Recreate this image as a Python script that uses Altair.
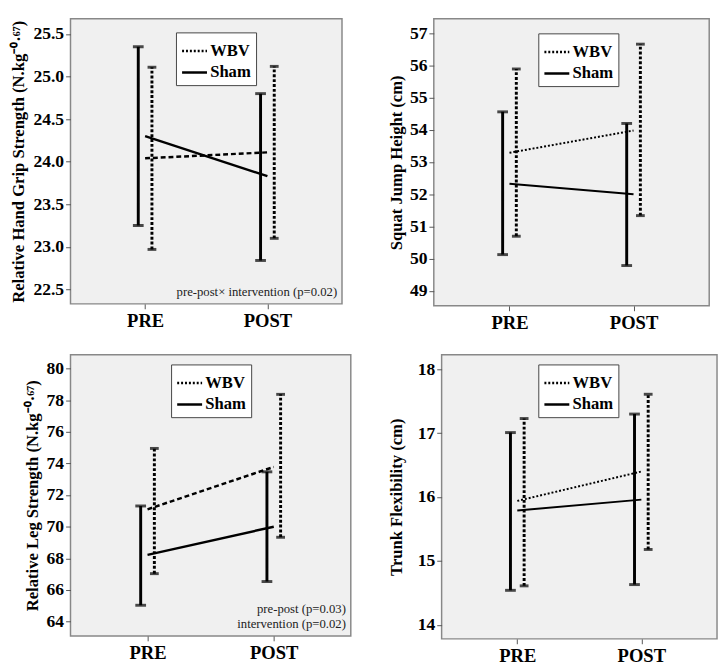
import altair as alt
import pandas as pd

phases = ["PRE", "POST"]
groups = ["WBV", "Sham"]

# Panel 1: Relative hand grip strength
grip_wbv_mean = [24.04, 24.11]
grip_wbv_lo = [22.97, 23.10]
grip_wbv_hi = [25.11, 25.12]
grip_sham_mean = [24.30, 23.83]
grip_sham_lo = [23.25, 22.84]
grip_sham_hi = [25.35, 24.80]
grip_ticks = [22.5, 23.0, 23.5, 24.0, 24.5, 25.0, 25.5]

# Panel 2: Squat jump height
jump_wbv_mean = [53.29, 53.98]
jump_wbv_lo = [50.70, 51.34]
jump_wbv_hi = [55.89, 56.66]
jump_sham_mean = [52.33, 52.00]
jump_sham_lo = [50.13, 49.79]
jump_sham_hi = [54.56, 54.20]
jump_ticks = [49, 50, 51, 52, 53, 54, 55, 56, 57]

# Panel 3: Relative leg strength
leg_wbv_mean = [71.10, 73.78]
leg_wbv_lo = [67.03, 69.33]
leg_wbv_hi = [74.95, 78.37]
leg_sham_mean = [68.22, 70.00]
leg_sham_lo = [65.03, 66.53]
leg_sham_hi = [71.31, 73.47]
leg_ticks = [64, 66, 68, 70, 72, 74, 76, 78, 80]

# Panel 4: Trunk flexibility
flex_wbv_mean = [15.94, 16.40]
flex_wbv_lo = [14.61, 15.18]
flex_wbv_hi = [17.23, 17.61]
flex_sham_mean = [15.79, 15.96]
flex_sham_lo = [14.54, 14.63]
flex_sham_hi = [17.01, 17.30]
flex_ticks = [14, 15, 16, 17, 18]

SERIF = "Liberation Serif"


def make_panel(title, wm, wl, wh, sm, sl, sh, domain, ticks, fmt,
               width, height, legend_xy, notes=(), wbv_line_dash=(2, 2),
               line_width=2.5, title_pad=6):
    rows = []
    for i, p in enumerate(phases):
        rows.append({"phase": p, "group": "WBV", "mean": wm[i], "lo": wl[i], "hi": wh[i]})
        rows.append({"phase": p, "group": "Sham", "mean": sm[i], "lo": sl[i], "hi": sh[i]})
    df = pd.DataFrame(rows)

    x = alt.X("phase:N", sort=phases, title=None,
              scale=alt.Scale(type="point", padding=0.61),
              axis=alt.Axis(labelAngle=0, labelFont=SERIF, labelFontSize=19,
                            labelFontWeight="bold", labelColor="black",
                            tickSize=5, tickColor="#555", domain=False,
                            labelPadding=3, grid=False))
    yscale = alt.Scale(domain=domain, nice=False, zero=False)
    yaxis = alt.Axis(values=ticks, format=fmt, grid=False, domain=False,
                     labelOverlap=False,
                     labelFont=SERIF, labelFontSize=18, labelFontWeight="bold",
                     labelColor="black", tickSize=5, tickColor="#555",
                     labelPadding=2, titleFont=SERIF, titleFontSize=17,
                     titleFontWeight="bold", titleColor="black",
                     titlePadding=title_pad)

    def yenc(field):
        return alt.Y(field + ":Q", scale=yscale, title=title, axis=yaxis)

    base = alt.Chart(df)

    # invisible layer that only carries the legend (dotted WBV / solid Sham)
    legend_layer = base.mark_line(color="black", strokeWidth=2.5, opacity=0).encode(
        x=x,
        y=yenc("mean"),
        detail="group:N",
        strokeDash=alt.StrokeDash(
            "group:N",
            scale=alt.Scale(domain=groups, range=[[2, 2], [1, 0]]),
            legend=alt.Legend(title=None, orient="none",
                              legendX=legend_xy[0], legendY=legend_xy[1],
                              strokeColor="#444", fillColor="white", padding=5,
                              labelFont=SERIF, labelFontSize=17, labelFontWeight="bold",
                              labelColor="black", symbolType="stroke",
                              symbolStrokeColor="black", symbolStrokeWidth=2.5,
                              symbolOpacity=1, symbolSize=650, rowPadding=0,
                              labelOffset=2)),
    )

    layers = [legend_layer]
    wbv = base.transform_filter(alt.datum.group == "WBV")
    sham = base.transform_filter(alt.datum.group == "Sham")
    layers.append(wbv.mark_line(color="black", strokeWidth=line_width,
                                strokeDash=list(wbv_line_dash)).encode(x=x, y=yenc("mean")))
    layers.append(sham.mark_line(color="black", strokeWidth=line_width).encode(
        x=x, y=yenc("mean")))

    for sub, off, dash, tick_size in [(sham, -7, [1, 0], 11), (wbv, 7, [3, 2], 9)]:
        layers.append(sub.mark_rule(color="black", strokeWidth=3, xOffset=off,
                                    strokeDash=dash).encode(
            x=x, y=yenc("lo"), y2="hi:Q"))
        layers.append(sub.mark_tick(color="black", orient="horizontal", size=tick_size,
                                    thickness=3, xOffset=off).encode(x=x, y=yenc("lo")))
        layers.append(sub.mark_tick(color="black", orient="horizontal", size=tick_size,
                                    thickness=3, xOffset=off).encode(x=x, y=yenc("hi")))

    n = len(notes)
    for k, note in enumerate(notes):
        layers.append(alt.Chart(pd.DataFrame({"t": [note]})).mark_text(
            align="right", baseline="bottom", font=SERIF, fontSize=13,
            color="#222").encode(
            x=alt.value(width - 5), y=alt.value(height - 5 - 15 * (n - 1 - k)),
            text="t:N"))

    return alt.layer(*layers).properties(width=width, height=height)


SUP = "\u207b\u2070\u00b7\u2076\u2077"

p1 = make_panel("Relative Hand Grip Strength (N.kg" + SUP + ")",
                grip_wbv_mean, grip_wbv_lo, grip_wbv_hi,
                grip_sham_mean, grip_sham_lo, grip_sham_hi,
                [22.33, 25.68], grip_ticks, ".1f", 278, 292, (108, 14),
                notes=["pre-post\u00d7 intervention  (p=0.02)"], wbv_line_dash=(5, 3),
                line_width=2.5, title_pad=6)
p2 = make_panel("Squat Jump Height (cm)",
                jump_wbv_mean, jump_wbv_lo, jump_wbv_hi,
                jump_sham_mean, jump_sham_lo, jump_sham_hi,
                [48.54, 57.45], jump_ticks, "d", 282, 294, (107, 15),
                line_width=2, title_pad=4)
p3 = make_panel("Relative  Leg  Strength (N.kg" + SUP + ")",
                leg_wbv_mean, leg_wbv_lo, leg_wbv_hi,
                leg_sham_mean, leg_sham_lo, leg_sham_hi,
                [63.09, 80.88], leg_ticks, "d", 287, 288, (103, 10),
                notes=["pre-post (p=0.03)", "intervention  (p=0.02)"],
                wbv_line_dash=(5, 3), line_width=2.5, title_pad=5)
p4 = make_panel("Trunk Flexibility (cm)",
                flex_wbv_mean, flex_wbv_lo, flex_wbv_hi,
                flex_sham_mean, flex_sham_lo, flex_sham_hi,
                [13.78, 18.23], flex_ticks, "d", 282, 291, (99, 10),
                line_width=2, title_pad=12)

chart = alt.concat(p1, p2, p3, p4, columns=2, align="none",
                   spacing={"row": 21, "column": 36}).resolve_scale(
    strokeDash="independent").resolve_legend(strokeDash="independent").properties(
    padding={"left": 0, "top": 2, "right": 0, "bottom": 0},
    background="white",
).configure_view(stroke="#888", strokeWidth=1.5, fill="#f0f0f0")

chart.save("out.html", embed_options={"renderer": "svg", "actions": False})
